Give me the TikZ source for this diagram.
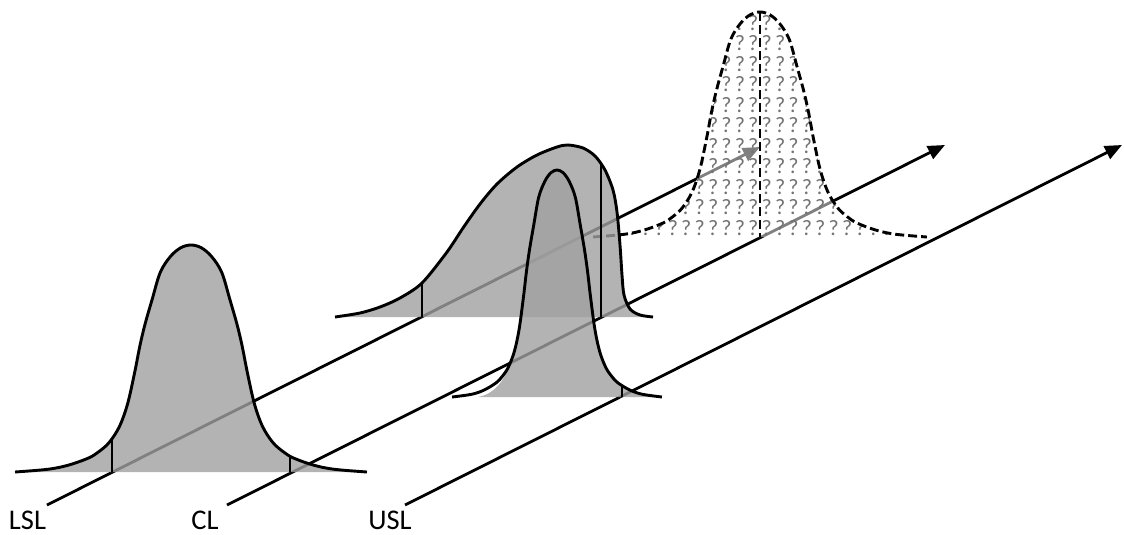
\documentclass[tikz,border=0pt]{standalone}
\usepackage{fontspec}
\newfontfamily\labfont{Carlito}
\usetikzlibrary{arrows.meta}
\definecolor{fillg}{gray}{0.627}
\begin{document}
\begin{tikzpicture}[x=1pt,y=-1pt,
  axis/.style={line width=2.8pt,-{Triangle[length=17pt,width=14pt]}},
  curve/.style={line width=2.9pt,line join=round},
  bellfill/.style={fill=fillg,fill opacity=0.8},
  dashcurve/.style={line width=2.9pt,dash pattern=on 9pt off 4pt},
  lab/.style={font=\labfont\fontsize{28.5}{28.5}\selectfont,anchor=base,inner sep=0pt},
  qm/.style={font=\labfont\fontsize{22}{22}\selectfont,text=black!55,inner sep=0pt},
  dashbell/.style={shift={(760,237)},xscale=0.97,yscale=-225},
  frontbell/.style={shift={(191,472)},xscale=1.023,yscale=-227},
  midbell/.style={shift={(557,397)},xscale=0.61,yscale=-227}
]
\useasboundingbox (0,0) rectangle (1124,535);

% axes
\coordinate (lslS) at (47,505);  \coordinate (lslE) at (760,147);
\coordinate (clS) at (227,505);  \coordinate (clE) at (945,145);
\coordinate (uslS) at (405,505); \coordinate (uslE) at (1122,145);
\draw[axis] (lslS) -- (lslE);
\draw[axis] (clS) -- (clE);
\draw[axis] (uslS) -- (uslE);

% dashed (future) distribution
\fill[white,fill opacity=0.5,dashbell] plot[smooth,tension=0.55] coordinates {(-172,0) (-140,0.012) (-120,0.03) (-100,0.062) (-90,0.09) (-80,0.13) (-70,0.2) (-62,0.3) (-55,0.44) (-50,0.555) (-45,0.65) (-38,0.76) (-30,0.88) (-20,0.95) (-10,0.988) (0,1) (10,0.988) (20,0.95) (30,0.88) (38,0.76) (45,0.65) (50,0.555) (55,0.44) (62,0.3) (70,0.2) (80,0.13) (90,0.09) (100,0.062) (120,0.03) (140,0.012) (172,0)} -- cycle;
\begin{scope}
\clip[dashbell] plot[smooth,tension=0.55] coordinates {(-172,0) (-140,0.012) (-120,0.03) (-100,0.062) (-90,0.09) (-80,0.13) (-70,0.2) (-62,0.3) (-55,0.44) (-50,0.555) (-45,0.65) (-38,0.76) (-30,0.88) (-20,0.95) (-10,0.988) (0,1) (10,0.988) (20,0.95) (30,0.88) (38,0.76) (45,0.65) (50,0.555) (55,0.44) (62,0.3) (70,0.2) (80,0.13) (90,0.09) (100,0.062) (120,0.03) (140,0.012) (172,0)} -- cycle;
\foreach \r in {0,...,10}
  \foreach \c in {-13,...,12}
    \node[qm] (q\r x\c) at ({766.7+13.4*\c},{23+20.5*\r}) {?};
\end{scope}
\draw[dashcurve,dashbell] plot[smooth,tension=0.55] coordinates {(-172,0) (-140,0.012) (-120,0.03) (-100,0.062) (-90,0.09) (-80,0.13) (-70,0.2) (-62,0.3) (-55,0.44) (-50,0.555) (-45,0.65) (-38,0.76) (-30,0.88) (-20,0.95) (-10,0.988) (0,1) (10,0.988) (20,0.95) (30,0.88) (38,0.76) (45,0.65) (50,0.555) (55,0.44) (62,0.3) (70,0.2) (80,0.13) (90,0.09) (100,0.062) (120,0.03) (140,0.012) (172,0)};
\coordinate (dtop) at (760,12); \coordinate (dbot) at (760,237);
\draw[dashcurve] (dtop) -- (dbot);

% back (skewed) distribution
\fill[bellfill] plot[smooth,tension=0.5] coordinates {(335,317) (360,313) (380,307) (400,298) (422,283) (447,252) (463,228) (480,204) (497,184) (517,167) (537,155) (557,147) (568,145) (583,148) (595,156) (605,170) (613,190) (617,212) (620,245) (622,275) (624,295) (630,309) (640,315) (653,317)} -- cycle;
\draw[curve] plot[smooth,tension=0.5] coordinates {(335,317) (360,313) (380,307) (400,298) (422,283) (447,252) (463,228) (480,204) (497,184) (517,167) (537,155) (557,147) (568,145) (583,148) (595,156) (605,170) (613,190) (617,212) (620,245) (622,275) (624,295) (630,309) (640,315) (653,317)};
\coordinate (bl1) at (422,283); \coordinate (bl2) at (422,317);
\coordinate (bc1) at (601,164); \coordinate (bc2) at (601,317);
\draw[curve] (bl1) -- (bl2);
\draw[curve] (bc1) -- (bc2);

% middle (narrow) distribution
\fill[bellfill,midbell] (-129.5,0) .. controls (-101.6,0.013) and (-86.9,0.075) .. (-80,0.13) -- plot[smooth,tension=0.55] coordinates {(-80,0.13) (-70,0.2) (-62,0.3) (-55,0.44) (-50,0.555) (-45,0.65) (-38,0.76) (-30,0.88) (-20,0.95) (-10,0.988) (0,1) (10,0.988) (20,0.95) (30,0.88) (38,0.76) (45,0.65) (50,0.555) (55,0.44) (62,0.3) (70,0.2) (80,0.13) (90,0.09) (100,0.062) (120,0.03) (140,0.012) (172,0)} -- cycle;
\draw[curve,midbell] plot[smooth,tension=0.55] coordinates {(-172,0) (-140,0.012) (-120,0.03) (-100,0.062) (-90,0.09) (-80,0.13) (-70,0.2) (-62,0.3) (-55,0.44) (-50,0.555) (-45,0.65) (-38,0.76) (-30,0.88) (-20,0.95) (-10,0.988) (0,1) (10,0.988) (20,0.95) (30,0.88) (38,0.76) (45,0.65) (50,0.555) (55,0.44) (62,0.3) (70,0.2) (80,0.13) (90,0.09) (100,0.062) (120,0.03) (140,0.012) (172,0)};
\coordinate (mu1) at (622,386); \coordinate (mu2) at (622,397);
\draw[curve] (mu1) -- (mu2);

% front distribution
\fill[bellfill,frontbell] plot[smooth,tension=0.55] coordinates {(-172,0) (-140,0.012) (-120,0.03) (-100,0.062) (-90,0.09) (-80,0.13) (-70,0.2) (-62,0.3) (-55,0.44) (-50,0.555) (-45,0.65) (-38,0.76) (-30,0.88) (-20,0.95) (-10,0.988) (0,1) (10,0.988) (20,0.95) (30,0.88) (38,0.76) (45,0.65) (50,0.555) (55,0.44) (62,0.3) (70,0.2) (80,0.13) (90,0.09) (100,0.062) (120,0.03) (140,0.012) (172,0)} -- cycle;
\draw[curve,frontbell] plot[smooth,tension=0.55] coordinates {(-172,0) (-140,0.012) (-120,0.03) (-100,0.062) (-90,0.09) (-80,0.13) (-70,0.2) (-62,0.3) (-55,0.44) (-50,0.555) (-45,0.65) (-38,0.76) (-30,0.88) (-20,0.95) (-10,0.988) (0,1) (10,0.988) (20,0.95) (30,0.88) (38,0.76) (45,0.65) (50,0.555) (55,0.44) (62,0.3) (70,0.2) (80,0.13) (90,0.09) (100,0.062) (120,0.03) (140,0.012) (172,0)};
\coordinate (fl1) at (112,438); \coordinate (fl2) at (112,472);
\coordinate (fc1) at (290,457); \coordinate (fc2) at (290,472);
\draw[curve] (fl1) -- (fl2);
\draw[curve] (fc1) -- (fc2);

% labels
\node[lab] (lsl) at (27.5,529) {LSL};
\node[lab] (cl) at (205,529) {CL};
\node[lab] (usl) at (390,529) {USL};
\end{tikzpicture}
\end{document}
